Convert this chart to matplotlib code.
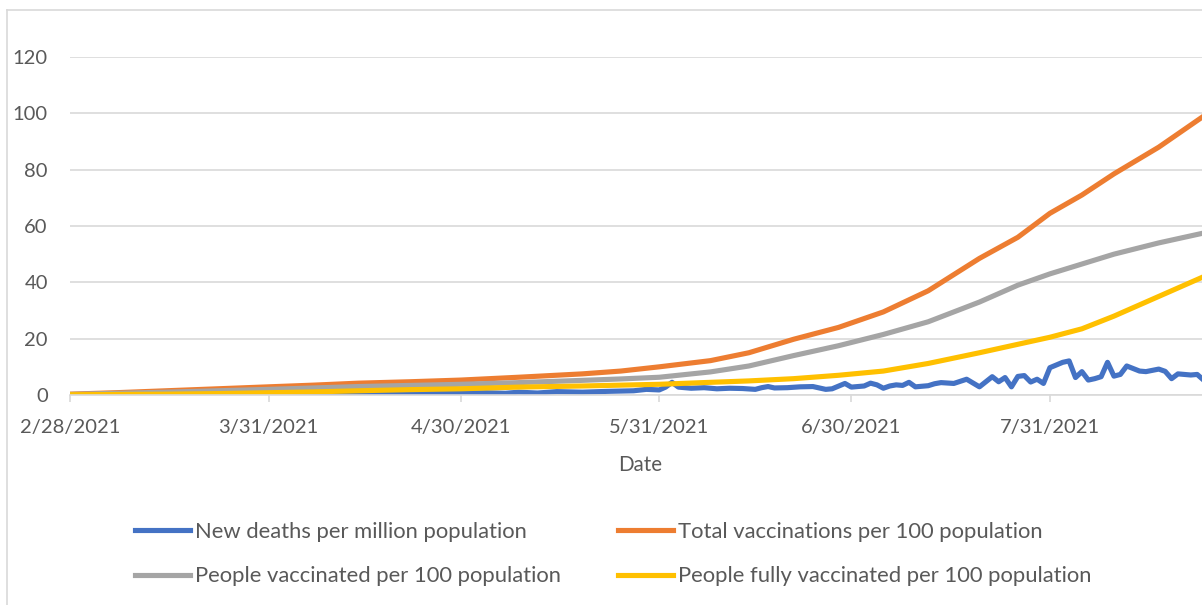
import datetime as dt
import matplotlib
matplotlib.use('Agg')
import matplotlib.pyplot as plt
from matplotlib.lines import Line2D

plt.rcParams['font.family'] = ['Lato', 'DejaVu Sans']

start = dt.date(2021, 2, 28)
tick_labels = ['2/28/2021', '3/31/2021', '4/30/2021', '5/31/2021', '6/30/2021', '7/31/2021']

# day offsets from 2/28/2021 and values
deaths_days = [0, 10, 20, 31, 40, 45, 52, 60, 65, 68, 70, 73, 76, 80, 84, 88, 90, 92, 93, 94,
               95, 97, 99, 101, 103, 105, 107, 108, 109, 110, 112, 114, 116, 117, 118, 119, 121,
               122, 123, 124, 125, 126, 127, 128, 129, 130, 131, 132, 134, 135, 136, 138, 140,
               142, 144, 145, 146, 147, 148, 149, 150, 151, 152, 153, 155, 156, 157, 158, 159,
               160, 161, 162, 163, 164, 165, 167, 168, 170, 171, 172, 173, 175, 176, 177]
deaths = [0.1, 0.1, 0.15, 0.2, 0.3, 0.3, 0.5, 0.6, 0.8, 0.6, 1.0, 0.7, 1.2, 1.0, 1.3, 1.5, 2.0,
          1.8, 2.8, 4.5, 2.8, 2.4, 2.6, 2.2, 2.4, 2.3, 2.0, 2.6, 3.0, 2.5, 2.6, 2.9, 3.0, 2.5,
          2.0, 2.2, 4.1, 2.8, 3.0, 3.2, 4.2, 3.6, 2.4, 3.2, 3.6, 3.4, 4.5, 2.9, 3.3, 4.0, 4.4,
          4.1, 5.6, 2.9, 6.5, 4.7, 6.2, 2.9, 6.6, 6.9, 4.6, 5.6, 4.1, 9.7, 11.6, 12.1, 6.2, 8.3,
          5.3, 5.8, 6.5, 11.6, 6.7, 7.3, 10.3, 8.5, 8.3, 9.2, 8.4, 5.8, 7.5, 7.1, 7.3, 5.3]

vacc_days = [0, 7, 15, 23, 31, 38, 45, 53, 61, 70, 80, 86, 92, 100, 106, 113, 120, 127, 134,
             142, 148, 153, 158, 163, 170, 177]
total_vacc = [0.3, 0.8, 1.5, 2.2, 2.9, 3.5, 4.2, 4.7, 5.3, 6.3, 7.5, 8.5, 10.0, 12.2, 15.0,
              19.8, 24.0, 29.5, 37.0, 48.5, 56.0, 64.5, 71.0, 78.5, 88.0, 99.0]
people_vacc = [0.2, 0.6, 1.0, 1.5, 2.0, 2.5, 3.0, 3.4, 3.8, 4.4, 5.2, 5.7, 6.3, 8.2, 10.3,
               14.0, 17.5, 21.5, 26.0, 33.0, 39.0, 43.0, 46.5, 50.0, 54.0, 57.5]
fully_vacc = [0.1, 0.2, 0.3, 0.5, 0.8, 1.1, 1.5, 1.9, 2.2, 2.8, 3.2, 3.5, 3.8, 4.5, 5.0,
              5.8, 7.0, 8.5, 11.2, 15.0, 18.0, 20.5, 23.5, 28.0, 35.0, 42.0]

def to_dates(days):
    return [start + dt.timedelta(days=d) for d in days]

fig = plt.figure(figsize=(12.02, 6.05), dpi=100)
W, H = 1202, 605
ax = fig.add_axes([70 / W, (H - 395) / H, 1140 / W, 338 / H])

lw = 3.7
ax.plot(to_dates(deaths_days), deaths, color='#4472C4', lw=lw, solid_joinstyle='round',
        label='New deaths per million population')
ax.plot(to_dates(vacc_days), total_vacc, color='#ED7D31', lw=lw, solid_joinstyle='round',
        label='Total vaccinations per 100 population')
ax.plot(to_dates(vacc_days), people_vacc, color='#A5A5A5', lw=lw, solid_joinstyle='round',
        label='People vaccinated per 100 population')
ax.plot(to_dates(vacc_days), fully_vacc, color='#FFC000', lw=lw, solid_joinstyle='round',
        label='People fully vaccinated per 100 population')

ax.set_xlim(start, start + dt.timedelta(days=178))
ax.set_ylim(0, 120)
ax.set_yticks(range(0, 121, 20))
ticks = [dt.datetime.strptime(t, '%m/%d/%Y').date() for t in tick_labels]
ax.set_xticks(ticks)
ax.set_xticklabels(tick_labels)

ax.grid(axis='y', color='#D9D9D9', lw=1.2)
ax.set_axisbelow(True)
for s in ['top', 'right', 'left']:
    ax.spines[s].set_visible(False)
ax.spines['bottom'].set_color('#D9D9D9')
ax.spines['bottom'].set_linewidth(1.2)
ax.tick_params(axis='y', length=0, pad=16, labelsize=14.5, labelcolor='#595959')
ax.tick_params(axis='x', length=5, width=1.2, color='#D9D9D9', pad=12, labelsize=14.5,
               labelcolor='#595959')
ax.set_xlabel('Date', fontsize=14.8, color='#595959', labelpad=14)

h, l = ax.get_legend_handles_labels()
order = [0, 2, 1, 3]
fig.legend([h[i] for i in order], [l[i] for i in order], ncol=2, frameon=False,
           loc='center', bbox_to_anchor=(613 / W, 1 - 554 / H), fontsize=15.8,
           labelcolor='#595959', handlelength=2.5, handletextpad=0.23,
           columnspacing=2.6, labelspacing=1.12)

# outer chart border (cropped at right and bottom)
fig.add_artist(Line2D([7 / W, 7 / W], [0, 1 - 10 / H], color='#D9D9D9', lw=1.2))
fig.add_artist(Line2D([7 / W, 1], [1 - 10 / H, 1 - 10 / H], color='#D9D9D9', lw=1.2))

fig.savefig('out.png', dpi=100)
